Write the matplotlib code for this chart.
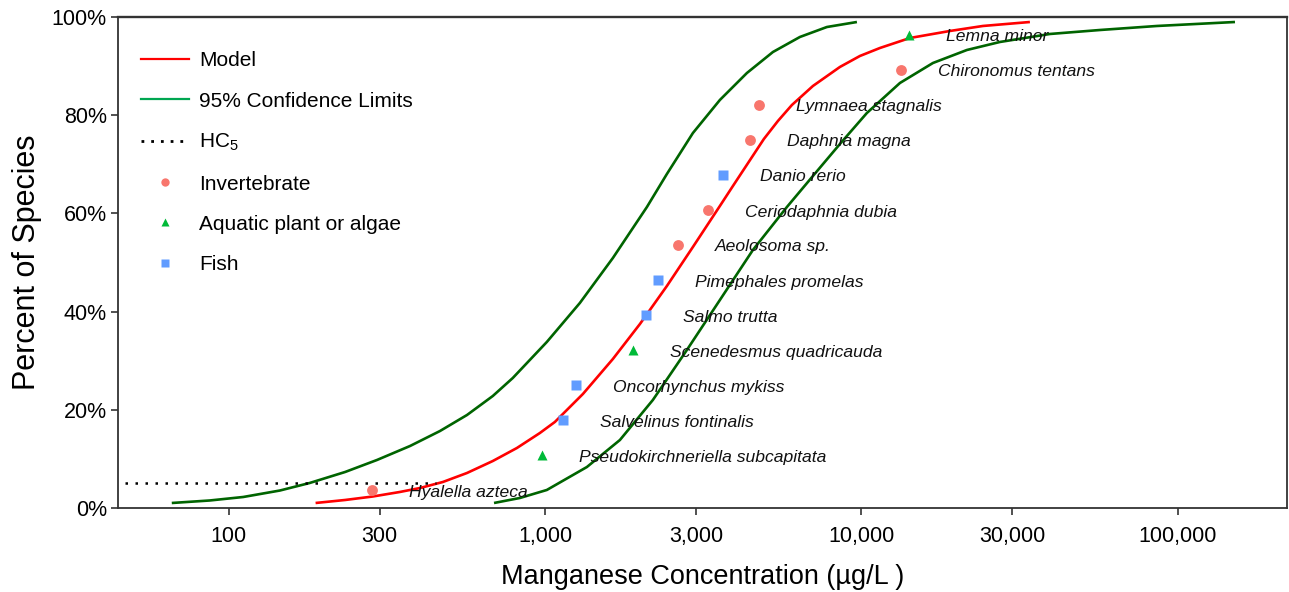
import matplotlib
matplotlib.use("Agg")
import matplotlib.pyplot as plt
from matplotlib.lines import Line2D
from matplotlib.ticker import FixedLocator, NullLocator, FixedFormatter

plt.rcParams["font.family"] = ["Liberation Sans", "DejaVu Sans"]
plt.rcParams["mathtext.fontset"] = "custom"
plt.rcParams["mathtext.rm"] = "Liberation Sans"
plt.rcParams["mathtext.it"] = "Liberation Sans:italic"

# species toxicity values (ug/L) and cumulative percent
species = ["Hyalella azteca", "Pseudokirchneriella subcapitata", "Salvelinus fontinalis",
           "Oncorhynchus mykiss", "Scenedesmus quadricauda", "Salmo trutta",
           "Pimephales promelas", "Aeolosoma sp.", "Ceriodaphnia dubia", "Danio rerio",
           "Daphnia magna", "Lymnaea stagnalis", "Chironomus tentans", "Lemna minor"]
conc = [283, 976, 1137, 1251, 1894, 2082, 2272, 2628, 3269, 3646, 4438, 4738, 13320, 14120]
pct = [3.6, 10.7, 17.9, 25.0, 32.1, 39.3, 46.4, 53.6, 60.7, 67.9, 75.0, 82.1, 89.3, 96.4]
group = ["Invertebrate", "Aquatic plant or algae", "Fish", "Fish", "Aquatic plant or algae",
         "Fish", "Fish", "Invertebrate", "Invertebrate", "Fish", "Invertebrate",
         "Invertebrate", "Invertebrate", "Aquatic plant or algae"]

# fitted model curve
model_x = [188, 233, 285, 347, 402, 475, 566, 683, 814, 962, 1073, 1316, 1637, 1993,
           2425, 2931, 3567, 3922, 4913, 5442, 6026, 7022, 8545, 9886, 11440, 14220,
           19030, 24200, 34070]
model_y = [1.02, 1.63, 2.34, 3.26, 4.07, 5.30, 7.13, 9.57, 12.22, 15.27, 17.52, 23.22,
           30.35, 37.47, 45.21, 53.16, 61.51, 65.58, 75.15, 78.82, 82.08, 85.95, 89.82,
           92.06, 93.69, 95.72, 97.15, 98.17, 98.98]

# lower / upper 95% confidence limits
lower_x = [66, 87, 111, 145, 180, 233, 294, 374, 465, 566, 683, 790, 1012, 1287, 1637,
           2097, 2425, 2931, 3567, 4342, 5248, 6387, 7773, 9672]
lower_y = [1.02, 1.53, 2.24, 3.56, 5.09, 7.33, 9.78, 12.63, 15.68, 18.94, 22.81, 26.48,
           33.81, 41.75, 50.92, 61.30, 68.02, 76.37, 83.10, 88.59, 92.87, 95.93, 97.96, 98.98]
upper_x = [689, 832, 1012, 1355, 1723, 2190, 2805, 3567, 4536, 5810, 7022, 8545, 10400,
           13230, 16820, 21540, 27380, 39410, 56720, 85900, 151600]
upper_y = [1.02, 2.04, 3.67, 8.35, 13.85, 22.0, 32.18, 42.36, 52.55, 61.30, 67.62, 74.13,
           80.45, 86.56, 90.63, 93.28, 94.91, 96.54, 97.35, 98.17, 98.98]

hc5_x = [47, 452]
hc5_y = [5, 5]

xticks = [100, 300, 1000, 3000, 10000, 30000, 100000]
xticklabels = ["100", "300", "1,000", "3,000", "10,000", "30,000", "100,000"]
yticks = [0, 20, 40, 60, 80, 100]

colors = {"Invertebrate": "#F8766D", "Aquatic plant or algae": "#00BA38", "Fish": "#619CFF"}
markers = {"Invertebrate": "o", "Aquatic plant or algae": "^", "Fish": "s"}

fig = plt.figure(figsize=(12.89, 5.92), dpi=100)
ax = fig.add_axes([0.0915, 0.1419, 0.9069, 0.8294])

line_kw = dict(lw=1.9, solid_joinstyle="round", solid_capstyle="butt")
ax.plot(lower_x, lower_y, color="#006400", **line_kw)
ax.plot(upper_x, upper_y, color="#006400", **line_kw)
ax.plot(model_x, model_y, color="#FF0000", **line_kw)
ax.plot(hc5_x, hc5_y, color="black", lw=1.8, linestyle=(0, (1, 3)))

for name, x, y, g in zip(species, conc, pct, group):
    ax.plot(x, y, marker=markers[g], color=colors[g], ms=7.8, mec="none", ls="none")
    ax.annotate(name, (x, y), xytext=(26.5, -1.5), textcoords="offset points",
                fontsize=12.6, style="italic", va="center", ha="left", color="#111111")

ax.set_xscale("log")
ax.set_xlim(44.6, 221300)
ax.set_ylim(0, 100)
ax.xaxis.set_major_locator(FixedLocator(xticks))
ax.xaxis.set_major_formatter(FixedFormatter(xticklabels))
ax.xaxis.set_minor_locator(NullLocator())
ax.set_yticks(yticks)
ax.set_yticklabels(["%d%%" % v for v in yticks])
ax.tick_params(axis="both", labelsize=15.5, length=5, width=1.2, color="#333333",
               direction="out")
ax.tick_params(axis="x", pad=8)
ax.tick_params(axis="y", pad=3)

for s in ax.spines.values():
    s.set_color("#333333")
    s.set_linewidth(1.3)
ax.spines["top"].set_linewidth(1.7)

ax.set_xlabel("Manganese Concentration (µg/L )", fontsize=19.5, labelpad=12)
ax.set_ylabel("Percent of Species", fontsize=22, labelpad=7)

handles = [
    Line2D([], [], color="#FF0000", lw=1.6),
    Line2D([], [], color="#00A651", lw=1.6),
    Line2D([], [], color="black", lw=2, linestyle=(0, (1, 2.5))),
    Line2D([], [], color=colors["Invertebrate"], marker="o", ls="none", ms=6, mec="none"),
    Line2D([], [], color=colors["Aquatic plant or algae"], marker="^", ls="none", ms=6, mec="none"),
    Line2D([], [], color=colors["Fish"], marker="s", ls="none", ms=6, mec="none"),
]
labels = ["Model", "95% Confidence Limits", "HC$_5$", "Invertebrate",
          "Aquatic plant or algae", "Fish"]
ax.legend(handles, labels, loc="upper left", bbox_to_anchor=(0.004, 0.968), frameon=False,
          fontsize=15, handlelength=2.3, handletextpad=0.48, labelspacing=1.02,
          borderaxespad=0.5)

fig.savefig("out.png", dpi=100)
